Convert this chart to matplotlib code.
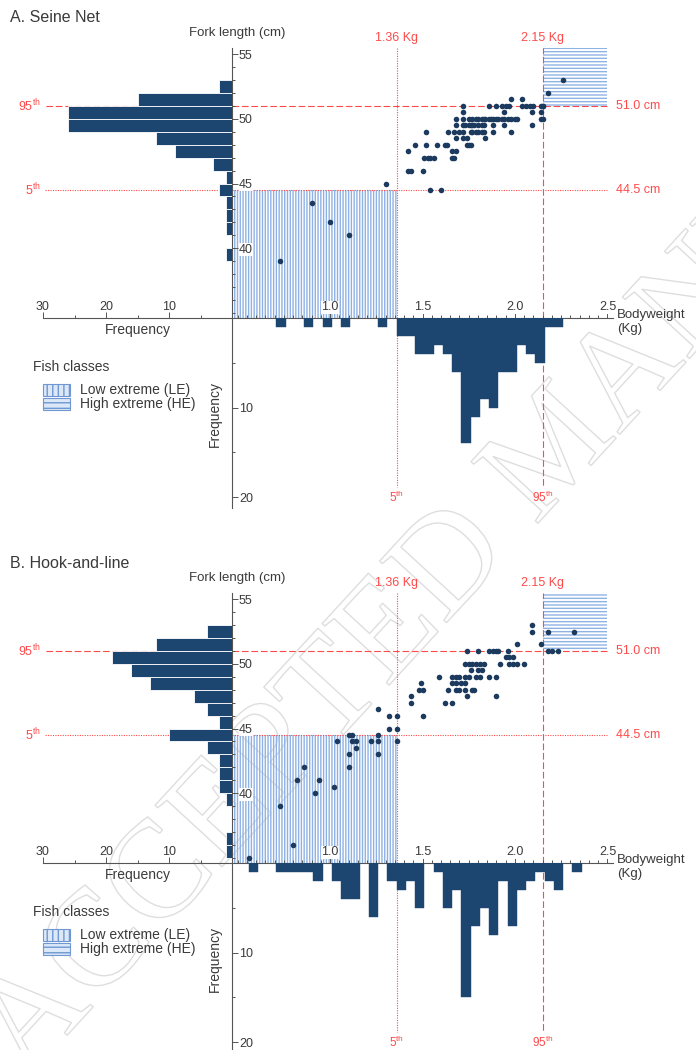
import numpy as np
import matplotlib.pyplot as plt
from matplotlib.patches import Rectangle
import matplotlib.patheffects as pe

# ---------------- Panel A: Seine Net ----------------
# scatter: bodyweight (kg) vs fork length (cm)
a_weight = [2.26,
            2.18,
            1.98, 2.04,
            1.72, 1.86, 1.90, 1.93, 1.95, 1.97, 2.04, 2.06, 2.08, 2.10, 2.14, 2.15, 2.15,
            1.72, 1.94, 2.09, 2.14,
            1.68, 1.72, 1.75, 1.77, 1.79, 1.80, 1.82, 1.83, 1.84, 1.86, 1.87,
            1.88, 1.90, 1.91, 1.93, 1.94, 1.96, 1.98, 2.00, 2.01, 2.14, 2.15,
            1.68, 1.72, 1.73, 1.75, 1.76, 1.77, 1.78, 1.80, 1.82, 1.83, 1.88, 1.94, 2.09,
            1.52, 1.64, 1.67, 1.70, 1.72, 1.76, 1.77, 1.79, 1.80, 1.82, 1.83, 1.88, 1.98,
            1.68, 1.72, 1.74, 1.84,
            1.46, 1.52, 1.58, 1.62, 1.63, 1.74, 1.75, 1.76,
            1.42, 1.66, 1.68,
            1.51, 1.53, 1.54, 1.56, 1.66, 1.67,
            1.42, 1.44, 1.50,
            1.30,
            1.54, 1.60,
            0.90, 1.00, 1.10, 0.73]
a_length = [53,
            52,
            51.5, 51.5,
            51, 51, 51, 51, 51, 51, 51, 51, 51, 51, 51, 51, 51,
            50.5, 50.5, 50.5, 50.5,
            50, 50, 50, 50, 50, 50, 50, 50, 50, 50, 50,
            50, 50, 50, 50, 50, 50, 50, 50, 50, 50, 50,
            49.5, 49.5, 49.5, 49.5, 49.5, 49.5, 49.5, 49.5, 49.5, 49.5, 49.5, 49.5, 49.5,
            49, 49, 49, 49, 49, 49, 49, 49, 49, 49, 49, 49, 49,
            48.5, 48.5, 48.5, 48.5,
            48, 48, 48, 48, 48, 48, 48, 48,
            47.5, 47.5, 47.5,
            47, 47, 47, 47, 47, 47,
            46, 46, 46,
            45,
            44.5, 44.5,
            43.5, 42, 41, 39]
# fork-length histogram (1 cm bins, lower edge)
a_fl_bins = [52, 51, 50, 49, 48, 47, 46, 45, 44, 43, 42, 41, 39]
a_fl_counts = [2, 15, 26, 26, 12, 9, 3, 1, 2, 1, 1, 1, 1]
# bodyweight histogram (0.05 kg bins, lower edge)
a_wt_bins = [0.71, 0.86, 0.96, 1.06, 1.26, 1.36, 1.41, 1.46, 1.51, 1.56, 1.61, 1.66,
             1.71, 1.76, 1.81, 1.86, 1.91, 1.96, 2.01, 2.06, 2.11, 2.16, 2.21]
a_wt_counts = [1, 1, 1, 1, 1, 2, 2, 4, 4, 3, 4, 6,
               14, 11, 9, 10, 6, 6, 3, 4, 5, 1, 1]

# ---------------- Panel B: Hook-and-line ----------------
b_weight = [2.09,
            2.09, 2.18, 2.32,
            2.01, 2.14,
            1.74, 1.80, 1.86, 1.88, 1.90, 1.91, 1.96, 2.18, 2.20, 2.23,
            1.95, 1.97, 1.99,
            1.73, 1.75, 1.77, 1.79, 1.81, 1.83, 1.92, 1.97, 1.99, 2.01, 2.05,
            1.76, 1.80, 1.82,
            1.59, 1.66, 1.68, 1.70, 1.73, 1.75, 1.79, 1.81, 1.86, 1.90,
            1.49, 1.66, 1.68, 1.71, 1.73,
            1.48, 1.50, 1.64, 1.68, 1.70, 1.73, 1.77, 1.78,
            1.44, 1.74, 1.90,
            1.44, 1.62, 1.66,
            1.26,
            1.32, 1.36, 1.50,
            1.32, 1.36,
            1.10, 1.12, 1.26,
            1.04, 1.12, 1.14, 1.22, 1.26, 1.36,
            1.14,
            1.10, 1.26,
            1.10, 0.86,
            0.82, 0.94,
            1.02, 0.92, 0.73, 0.80, 0.56]
b_length = [53,
            52.5, 52.5, 52.5,
            51.5, 51.5,
            51, 51, 51, 51, 51, 51, 51, 51, 51, 51,
            50.5, 50.5, 50.5,
            50, 50, 50, 50, 50, 50, 50, 50, 50, 50, 50,
            49.5, 49.5, 49.5,
            49, 49, 49, 49, 49, 49, 49, 49, 49, 49,
            48.5, 48.5, 48.5, 48.5, 48.5,
            48, 48, 48, 48, 48, 48, 48, 48,
            47.5, 47.5, 47.5,
            47, 47, 47,
            46.5,
            46, 46, 46,
            45, 45,
            44.5, 44.5, 44.5,
            44, 44, 44, 44, 44, 44,
            43.5,
            43, 43,
            42, 42,
            41, 41,
            40.5, 40, 39, 36, 35]
b_fl_bins = [52, 51, 50, 49, 48, 47, 46, 45, 44, 43, 42, 41, 40, 39, 36, 35]
b_fl_counts = [4, 12, 19, 16, 13, 6, 4, 2, 10, 4, 2, 2, 2, 1, 1, 1]
b_wt_bins = [0.56, 0.71, 0.76, 0.81, 0.86, 0.91, 1.01, 1.06, 1.11, 1.21, 1.31, 1.36,
             1.41, 1.46, 1.56, 1.61, 1.66, 1.71, 1.76, 1.81, 1.86, 1.91, 1.96, 2.01,
             2.06, 2.11, 2.16, 2.21, 2.31]
b_wt_counts = [1, 1, 1, 1, 1, 2, 2, 4, 4, 6, 2, 3,
               2, 5, 1, 5, 3, 15, 7, 5, 8, 2, 7, 3,
               2, 1, 2, 3, 1]

# percentile thresholds
wt_p5, wt_p95 = 1.36, 2.15
fl_p5, fl_p95 = 44.5, 51.0

NAVY = '#1c4670'
DOT = '#1b3a5e'
RED = '#ff4a4a'
HATCH = '#8fb2e4'
AXIS = '#555555'
TEXT = '#3a3a3a'

plt.rcParams['font.family'] = ['Liberation Sans', 'DejaVu Sans']
plt.rcParams['mathtext.fontset'] = 'custom'
plt.rcParams['mathtext.rm'] = 'Liberation Sans'
plt.rcParams['hatch.linewidth'] = 1.0
plt.rcParams['hatch.color'] = HATCH

W, H = 696, 1050
fig = plt.figure(figsize=(W / 100, H / 100), dpi=100)


def box(x0, y0, x1, y1):
    return [x0 / W, 1 - y1 / H, (x1 - x0) / W, (y1 - y0) / H]


XLIM = (0.47, 2.53)
YLIM = (34.6, 55.45)
FMAX = 21.2
DOTTED = (0, (1, 1.2))
DASHED = (0, (6, 2.5))


def panel(dy, title, wt, ln, fl_bins, fl_counts, wt_bins, wt_counts):
    sc = fig.add_axes(box(232, 48.4 + dy, 613, 318 + dy))
    lh = fig.add_axes(box(43, 48.4 + dy, 232, 318 + dy))
    bh = fig.add_axes(box(232, 318 + dy, 613, 508 + dy))
    for ax in (sc, lh, bh):
        ax.patch.set_visible(False)
        for s in ax.spines.values():
            s.set_visible(False)
            s.set_color(AXIS)
            s.set_linewidth(0.8)
        ax.tick_params(which='both', direction='in', colors=AXIS,
                       labelcolor=TEXT, labelsize=9, width=0.7)
        ax.tick_params(which='major', length=4)
        ax.tick_params(which='minor', length=2.5)

    # scatter
    sc.scatter(wt, ln, s=16, color=DOT, linewidths=0, zorder=4)
    sc.set_xlim(XLIM)
    sc.set_ylim(YLIM)
    sc.spines['left'].set_visible(True)
    sc.spines['bottom'].set_visible(True)
    sc.set_xticks([1.0, 1.5, 2.0, 2.5])
    sc.set_xticklabels(['1.0', '1.5', '2.0', '2.5'])
    sc.set_xticks(np.arange(0.5, 2.51, 0.05), minor=True)
    sc.set_yticks([40, 45, 50, 55])
    sc.set_yticks(range(35, 56), minor=True)
    sc.tick_params(axis='x', pad=-12)
    sc.tick_params(axis='y', pad=-5)
    for t in sc.get_yticklabels():
        t.set_ha('left')
        t.set_bbox(dict(fc='white', ec='none', pad=0.3))
    for t in sc.get_xticklabels():
        t.set_bbox(dict(fc='white', ec='none', pad=0.3))

    sc.add_patch(Rectangle((XLIM[0], YLIM[0]), wt_p5 - XLIM[0], fl_p5 - YLIM[0],
                           fill=False, hatch='||||||', edgecolor=HATCH, lw=0, zorder=0.5))
    sc.add_patch(Rectangle((wt_p95, fl_p95), 2.5 - wt_p95, YLIM[1] - fl_p95,
                           fill=False, hatch='-----', edgecolor=HATCH, lw=0, zorder=0.5))

    sc.axvline(wt_p5, color=RED, lw=0.8, linestyle=DOTTED, zorder=1)
    sc.axvline(wt_p95, color=RED, lw=0.8, linestyle=DASHED, zorder=1)
    sc.hlines(fl_p95, XLIM[0], 2.5, color=RED, lw=0.8, linestyles=[DASHED], zorder=1)
    sc.hlines(fl_p5, XLIM[0], 2.5, color=RED, lw=0.8, linestyles=[DOTTED], zorder=1)

    tr = sc.get_xaxis_transform()
    sc.text(wt_p5, 1.039, '%.2f Kg' % wt_p5, transform=tr, ha='center', va='center',
            color=RED, fontsize=9)
    sc.text(wt_p95, 1.039, '%.2f Kg' % wt_p95, transform=tr, ha='center', va='center',
            color=RED, fontsize=9)
    sc.text(2.545, fl_p95, '%.1f cm' % fl_p95, ha='left', va='center', color=RED, fontsize=9)
    sc.text(2.545, fl_p5, '%.1f cm' % fl_p5, ha='left', va='center', color=RED, fontsize=9)

    # fork-length histogram (left)
    lh.barh(np.array(fl_bins) + 0.5, fl_counts, height=1, color=NAVY,
            edgecolor='white', lw=0.6, zorder=2)
    lh.set_xlim(30, 0)
    lh.set_ylim(YLIM)
    lh.spines['bottom'].set_visible(True)
    lh.set_xticks([30, 20, 10])
    lh.set_xticks([25, 15, 5], minor=True)
    lh.set_yticks([])
    lh.tick_params(axis='x', pad=-12)
    lh.set_xlabel('Frequency', fontsize=10, color=TEXT, labelpad=0)
    lh.hlines(fl_p95, 0, 29.8, color=RED, lw=0.8, linestyles=[DASHED], zorder=1)
    lh.hlines(fl_p5, 0, 29.8, color=RED, lw=0.8, linestyles=[DOTTED], zorder=1)
    lh.text(30.4, fl_p95, '95$^{\\mathrm{th}}$', ha='right', va='center', color=RED, fontsize=9)
    lh.text(30.4, fl_p5, '5$^{\\mathrm{th}}$', ha='right', va='center', color=RED, fontsize=9)

    # bodyweight histogram (below)
    bh.bar(wt_bins, wt_counts, width=0.05, align='edge', color=NAVY,
           edgecolor=NAVY, lw=0.3, zorder=2)
    bh.set_xlim(XLIM)
    bh.set_ylim(FMAX, 0)
    bh.spines['left'].set_visible(True)
    bh.set_xticks([])
    bh.set_yticks([10, 20])
    bh.set_yticks([5, 15], minor=True)
    bh.tick_params(axis='y', pad=-5)
    for t in bh.get_yticklabels():
        t.set_ha('left')
    bh.set_ylabel('Frequency', fontsize=10, color=TEXT)
    bh.yaxis.set_label_coords(-0.026, 0.495)
    bh.vlines(wt_p5, 0, 18.9, color=RED, lw=0.8, linestyles=[DOTTED], zorder=1)
    bh.vlines(wt_p95, 0, 18.9, color=RED, lw=0.8, linestyles=[DASHED], zorder=1)
    bh.text(wt_p5, 20.0, '5$^{\\mathrm{th}}$', ha='center', va='center', color=RED, fontsize=8.5)
    bh.text(wt_p95, 20.0, '95$^{\\mathrm{th}}$', ha='center', va='center', color=RED, fontsize=8.5)

    # labels
    fig.text(10 / W, 1 - (18 + dy) / H, title, fontsize=11.5, color=TEXT, va='center')
    fig.text(237 / W, 1 - (33 + dy) / H, 'Fork length (cm)', fontsize=9.5,
             color=TEXT, ha='center', va='center')
    fig.text(617 / W, 1 - (309 + dy) / H, 'Bodyweight\n(Kg)', fontsize=9.5,
             color=TEXT, ha='left', va='top', linespacing=1.2)

    # legend
    fig.text(33 / W, 1 - (367 + dy) / H, 'Fish classes', fontsize=10, color=TEXT, va='center')
    for i, (hatch, lab) in enumerate([('|||', 'Low extreme (LE)'),
                                      ('---', 'High extreme (HE)')]):
        y0 = 384 + 14 * i + dy
        fig.add_artist(Rectangle((43 / W, 1 - (y0 + 12) / H), 27 / W, 12 / H,
                                 transform=fig.transFigure, facecolor='#dce8f8',
                                 edgecolor='#6f97d2', hatch=hatch, lw=0.8))
        fig.text(80 / W, 1 - (y0 + 6) / H, lab, fontsize=10, color=TEXT, va='center')


panel(0, 'A. Seine Net', a_weight, a_length, a_fl_bins, a_fl_counts, a_wt_bins, a_wt_counts)
panel(545, 'B. Hook-and-line', b_weight, b_length, b_fl_bins, b_fl_counts, b_wt_bins, b_wt_counts)

# faint watermark running up from the lower-left corner (cut by the page edge)
fig.text(26 / W, 1 - 1080 / H, 'ACCEPTED MANUSCRIPT', rotation=47.4, rotation_mode='anchor',
         fontsize=100, family='Liberation Serif', color='none', ha='left', va='baseline',
         path_effects=[pe.Stroke(linewidth=1.0, foreground='#dedede')], zorder=-1)

fig.savefig('out.png', dpi=100)
